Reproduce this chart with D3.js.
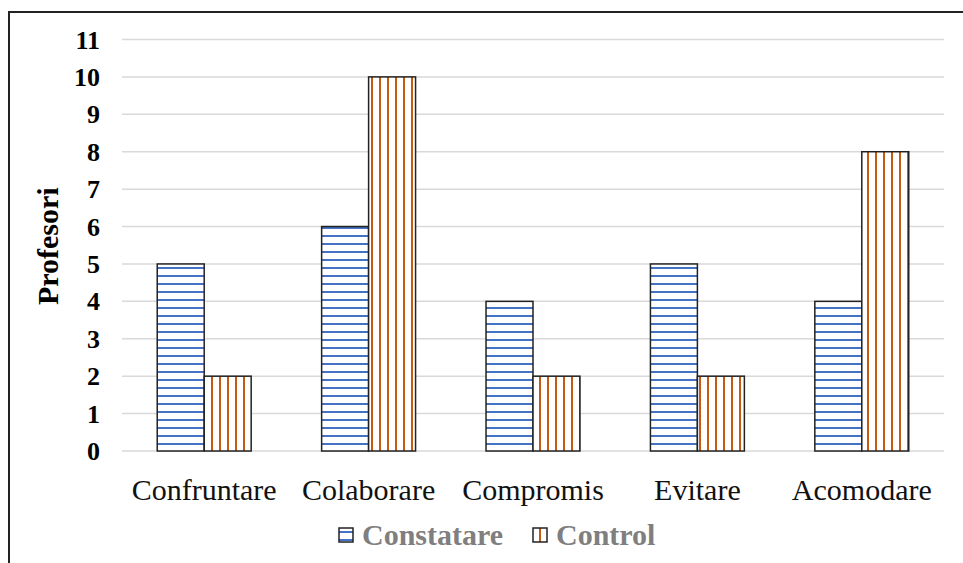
<!DOCTYPE html>
<html>
<head>
<meta charset="utf-8">
<script src="https://cdn.jsdelivr.net/npm/d3@7"></script>
<style>
  body { margin: 0; background: #fff; }
  svg { display: block; font-family: "Liberation Serif", "Times New Roman", serif; }
</style>
</head>
<body>
<svg id="chart" width="963" height="563"></svg>
<script>
// categorii si valori
const categories = ["Confruntare", "Colaborare", "Compromis", "Evitare", "Acomodare"];
const seriesNames = ["Constatare", "Control"];
const constatare = [5, 6, 4, 5, 4];
const control = [2, 10, 2, 2, 8];
const yTicks = [0, 1, 2, 3, 4, 5, 6, 7, 8, 9, 10, 11];

const svg = d3.select("#chart");
const margin = {left: 122, right: 19, top: 39, bottom: 112};
const W = 963, H = 563;

// modele de hasura
const defs = svg.append("defs");
const hp = defs.append("pattern").attr("id", "hstripe")
    .attr("patternUnits", "userSpaceOnUse").attr("width", 8).attr("height", 8);
hp.append("rect").attr("width", 8).attr("height", 8).attr("fill", "#fff");
hp.append("rect").attr("y", 3).attr("width", 8).attr("height", 2).attr("fill", "#4472C4");
const vp = defs.append("pattern").attr("id", "vstripe")
    .attr("patternUnits", "userSpaceOnUse").attr("width", 8).attr("height", 8);
vp.append("rect").attr("width", 8).attr("height", 8).attr("fill", "#fff");
vp.append("rect").attr("x", 3).attr("width", 2).attr("height", 8).attr("fill", "#C55A11");

// chenar
svg.append("path")
    .attr("d", `M9,${H + 5} V12 H${W + 5}`)
    .attr("fill", "none").attr("stroke", "#222").attr("stroke-width", 2);

const x = d3.scaleBand().domain(categories)
    .range([margin.left, W - margin.right]).paddingInner(0).paddingOuter(0);
const y = d3.scaleLinear().domain([0, 11]).range([451, 39.5]);

// linii de grila
svg.append("g").selectAll("line").data(yTicks).join("line")
    .attr("x1", margin.left).attr("x2", W - margin.right)
    .attr("y1", d => y(d)).attr("y2", d => y(d))
    .attr("stroke", "#d9d9d9").attr("stroke-width", 1.5);

// etichete axa Y
svg.append("g").selectAll("text").data(yTicks).join("text")
    .attr("x", 100).attr("y", d => y(d)).attr("dy", "0.35em")
    .attr("text-anchor", "end").attr("font-size", 26).attr("font-weight", "bold")
    .attr("fill", "#000").text(d => d);

svg.append("text")
    .attr("transform", `translate(47,${y(5.5) + 1}) rotate(-90)`)
    .attr("text-anchor", "middle").attr("dy", "0.35em")
    .attr("font-size", 30).attr("font-weight", "bold").text("Profesori");

// bare
const barW = x.bandwidth() * 0.2857;
const inner = d3.scaleBand().domain(seriesNames).range([-barW, barW]);
const fills = {Constatare: "url(#hstripe)", Control: "url(#vstripe)"};
const rows = categories.map((c, i) => ({c, vals: [constatare[i], control[i]]}));

const g = svg.append("g");
rows.forEach(r => {
    const cx = x(r.c) + x.bandwidth() / 2;
    seriesNames.forEach((s, j) => {
        g.append("rect")
            .attr("x", cx + inner(s))
            .attr("y", y(r.vals[j]))
            .attr("width", inner.bandwidth())
            .attr("height", y(0) - y(r.vals[j]))
            .attr("fill", fills[s])
            .attr("stroke", "#222").attr("stroke-width", 1.5);
    });
});

// etichete categorii
svg.append("g").selectAll("text").data(categories).join("text")
    .attr("x", d => x(d) + x.bandwidth() / 2).attr("y", 500)
    .attr("text-anchor", "middle").attr("font-size", 30).attr("fill", "#111")
    .text(d => d);

// legenda
const legend = svg.append("g");
const items = [{name: "Constatare", x: 339}, {name: "Control", x: 533}];
items.forEach(it => {
    legend.append("rect").attr("x", it.x).attr("y", 528).attr("width", 14).attr("height", 14)
        .attr("fill", fills[it.name]).attr("stroke", "#222").attr("stroke-width", 1.5);
    legend.append("text").attr("x", it.x + 23).attr("y", 545)
        .attr("font-size", 30).attr("font-weight", "bold").attr("fill", "#7f7f7f")
        .text(it.name);
});
</script>
</body>
</html>
